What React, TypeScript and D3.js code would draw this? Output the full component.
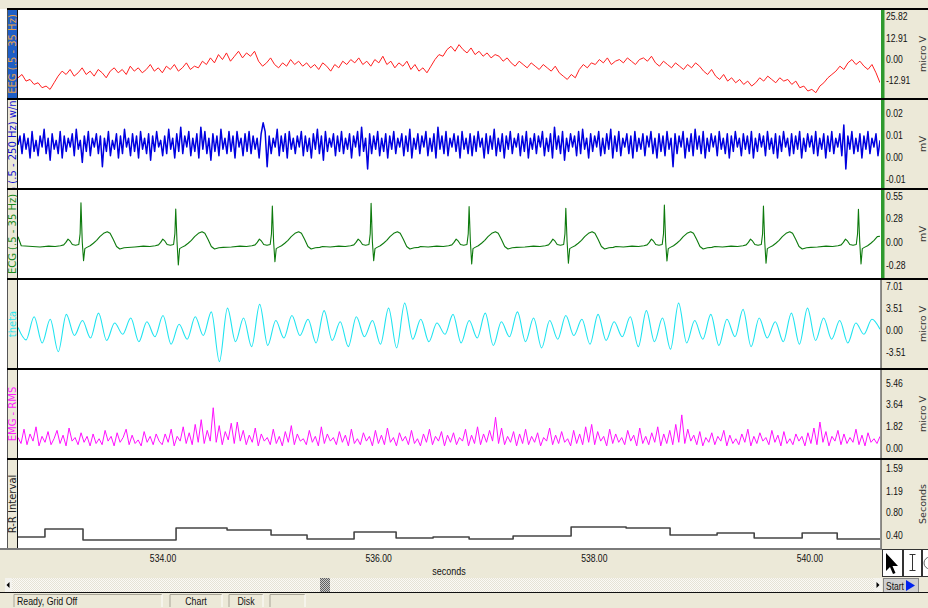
import React from 'react'
import * as d3 from 'd3'

// ---- values ----
const tStart = 532.655
const tEnd = 540.65
const timeTicks = [534, 536, 538, 540]

// EEG (.5 - 35 Hz), micro V, evenly sampled over the window
const eegMicroV = [
  -11, -9, -13, -12, -15, -14, -17, -16, -18, -14, -10, -7,
  -9, -6, -10, -8, -5, -9, -7, -10, -6, -8, -11, -7,
  -5, -8, -6, -9, -4, -7, -5, -8, -6, -3, -7, -5,
  -8, -4, -6, -3, -7, -5, -2, -6, -4, -5, -1, -3,
  1, -2, 3, 0, 4, -1, 2, 5, 1, 4, 2, 5,
  -1, -4, -2, 1, -3, -5, -2, -4, 0, -3, -1, -4,
  -2, -5, -3, -6, -2, -4, -7, -3, -5, -1, -3, 0,
  -2, 1, -3, -1, -4, 0, -2, 2, -3, -1, -5, -2,
  -4, -1, -6, -3, -7, -5, -8, -4, 0, 3, 2, 6,
  8, 5, 9, 6, 4, 7, 3, 5, 2, 4, 1, 3,
  2, -1, 1, -2, -4, -1, -3, -5, -2, -4, -6, -3,
  -5, -7, -4, -8, -10, -12, -9, -11, -6, -3, -5, -2,
  -3, 0, -2, 1, -3, -1, 0, -2, 1, -1, -3, 0,
  1, -1, 2, -2, -4, -1, -3, -5, -2, -4, -6, -3,
  -5, -2, -4, -7, -9, -6, -10, -12, -9, -13, -11, -14,
  -12, -15, -13, -16, -14, -11, -13, -10, -12, -14, -11, -13,
  -12, -15, -13, -17, -16, -19, -18, -20, -16, -14, -11, -9,
  -7, -4, -6, -2, 0, -3, -1, -4, -6, -3, -8, -14,
]

// EMG (.5 - 250 Hz) w/notch, micro V (axis shows mV)
const emgRawMicroV = [
  6, 10, 2, 11, 4, 9, 0, 12, 3, 8, 1, 10, 5, 13, 2, 9, -1, 11, 4, 8,
  2, 12, 0, 10, 3, 9, 5, 11, 1, 13, 4, 8, -2, 10, 3, 12, 1, 9, 5, 11,
  2, 10, -4, 9, 3, 12, 1, 8, 4, 11, 0, 10, 2, 13, 5, 9, 1, 11, 3, 10,
  0, 12, 4, 9, 2, 11, -1, 10, 3, 12, 5, 8, 1, 10, 2, 13, 4, 9, 0, 11,
  3, 14, 2, 10, 5, 12, 1, 9, 3, 11, 0, 14, 4, 12, 2, 9, -1, 11, 3, 10,
  1, 13, 4, 9, 2, 12, 3, 10, 0, 12, 5, 9, 1, 11, 3, 12, 2, 10, 4, 9,
  0, 11, 16, 12, -4, 10, 2, 9, 5, 13, 1, 10, 3, 11, 0, 12, 4, 9, 2, 10,
  5, 12, 1, 10, 3, 9, 0, 11, 4, 13, 2, 10, -1, 12, 3, 9, 5, 11, 1, 10,
  3, 12, 2, 9, 4, 11, 0, 10, 5, 12, 1, 14, 3, 9, -5, 11, 2, 10, 4, 12,
  1, 9, 3, 11, 0, 10, 4, 12, 2, 9, 5, 11, 1, 10, 3, 13, 0, 9, 4, 11,
  2, 10, 5, 12, 1, 9, 3, 11, 0, 14, 4, 10, 2, 12, 1, 9, 5, 11, 3, 10,
  0, 12, 4, 9, 2, 11, 1, 10, 3, 12, 5, 9, 0, 11, 2, 10, 4, 13, 1, 9,
  3, 11, 0, 10, 4, 12, 2, 9, 5, 11, 1, 10, 3, 12, 0, 9, 4, 11, 2, 10,
  5, 12, 1, 9, 3, 11, 0, 14, 4, 10, 2, 12, -1, 9, 3, 11, 5, 10, 1, 12,
  2, 13, 4, 9, 0, 11, 3, 10, 5, 12, 1, 9, 2, 11, 4, 13, 0, 10, 3, 12,
  1, 9, 5, 11, 2, 10, 0, 12, 3, 9, 4, 11, 1, 10, 5, 12, 2, 9, 0, 11,
  3, 10, 1, 12, 4, 9, -4, 11, 2, 10, 5, 12, 0, 9, 3, 11, 1, 13, 4, 10,
  2, 12, 0, 9, 3, 11, 5, 10, 1, 12, 4, 9, 2, 11, 0, 10, 3, 12, 5, 9,
  1, 11, 4, 10, 2, 12, 0, 9, 3, 11, 5, 10, 1, 12, 4, 9, 2, 11, 0, 10,
  3, 12, 5, 9, 1, 11, 2, 10, 4, 12, 0, 9, 3, 11, 5, 10, 2, 12, 1, 9,
  4, 11, 0, 10, 3, 12, 2, 9, 5, 11, 1, 15, -5, 10, 4, 12, 2, 9, 3, 11,
  0, 10, 4, 12, 2, 9, 5, 11, 1, 8,
]

// ECG (.5 - 35 Hz), mV: beat times, R / S amplitudes and one beat shape
const ecgBeatTimes = [533.239, 534.118, 535.014, 535.93, 536.839, 537.736, 538.65, 539.569, 540.45]
const ecgRPeaks = [0.476, 0.4, 0.436, 0.469, 0.428, 0.409, 0.448, 0.436, 0.396]
const ecgSTroughs = [-0.227, -0.279, -0.239, -0.227, -0.267, -0.258, -0.23, -0.258, -0.267]
const ecgWaveOffsets = [-0.45, -0.38, -0.3, -0.24, -0.19, -0.16, -0.14, -0.12, -0.1, -0.08, -0.05, -0.02, -0.008, 0, 0.012, 0.024, 0.036, 0.055, 0.085, 0.115, 0.145, 0.175, 0.21, 0.244, 0.27, 0.3, 0.33, 0.36, 0.4, 0.44]
const ecgWaveValues = [-0.055, -0.06, -0.05, -0.055, -0.045, -0.035, -0.005, 0.035, 0.01, -0.03, -0.04, -0.03, 0.1, null, 0, null, -0.08, -0.065, -0.045, -0.015, 0.02, 0.065, 0.105, 0.125, 0.105, 0.03, -0.055, -0.085, -0.07, -0.065]
const ecgLead = [0.065, -0.045]
const ecgTail = 0.07

// theta, micro V, successive peaks and troughs
const thetaMicroV = [
  0.5, -1.5, 2.2, -2.0, 1.8, -3.4, 2.6, -0.8, 1.6, -1.2,
  2.8, -1.6, 1.2, -0.6, 2.0, -1.8, 1.4, -1.0, 2.4, -2.2,
  1.0, -1.4, 2.2, -0.8, 3.0, -5.0, 3.6, -1.8, 2.0, -2.6,
  4.2, -2.4, 1.6, -1.2, 2.4, -0.8, 1.8, -2.0, 3.2, -1.6,
  1.4, -2.6, 2.2, -1.0, 1.6, -2.2, 3.6, -2.8, 4.4, -1.4,
  1.8, -1.8, 1.2, -0.6, 2.6, -2.0, 1.6, -1.2, 2.8, -2.4,
  1.4, -1.0, 3.0, -1.8, 2.0, -2.8, 1.6, -1.4, 2.4, -0.8,
  1.8, -2.2, 2.6, -1.6, 1.4, -1.0, 2.2, -2.6, 3.2, -1.8,
  2.0, -3.0, 4.4, -2.0, 1.6, -1.4, 2.6, -2.4, 1.8, -1.0,
  3.4, -2.6, 2.0, -1.2, 1.4, -1.8, 2.8, -2.2, 3.6, -1.6,
  2.0, -1.4, 1.6, -2.0, 1.2, -0.6, 1.8, 0.2,
]

// EMG - RMS, micro V
const emgRmsMicroV = [
  0.9, 0.4, 1.6, 0.3, 1.2, 0.6, 1.8, 0.2, 1.0, 0.5, 1.4, 0.3, 0.8, 1.5, 0.4, 1.1, 0.2, 1.7, 0.6, 0.9, 0.3, 1.3, 0.5, 1.0,
  0.2, 1.2, 0.4, 0.8, 0.3, 1.5, 0.6, 1.0, 0.2, 1.3, 0.5, 0.9, 1.6, 0.3, 1.1, 0.4, 0.7, 0.2, 1.4, 0.5, 1.0, 0.3, 1.2, 0.6,
  0.3, 1.2, 0.5, 1.6, 0.2, 1.0, 0.6, 1.8, 0.4, 1.3, 0.3, 2.0, 0.5, 2.4, 0.4, 1.5, 0.6, 3.4, 0.5, 1.9, 0.3, 1.4, 0.7, 2.1,
  0.4, 2.2, 0.6, 1.5, 0.3, 1.1, 0.5, 1.7, 0.2, 1.2, 0.6, 0.9, 0.3, 1.6, 0.4, 1.0, 0.2, 1.4, 0.5, 1.9, 0.3, 1.2, 0.6, 0.8,
  0.3, 1.5, 0.5, 1.0, 0.2, 1.8, 0.4, 1.2, 0.6, 0.9, 0.3, 1.4, 0.5, 1.1, 0.2, 1.6, 0.4, 0.8, 0.3, 1.3, 0.6, 1.0, 0.2, 1.5,
  0.4, 1.1, 0.3, 1.7, 0.5, 0.9, 0.2, 1.3, 0.6, 1.0, 0.3, 1.5, 0.4, 0.8, 0.2, 1.2, 0.5, 1.6, 0.3, 1.0, 0.6, 1.4, 0.2, 1.1,
  0.5, 1.3, 0.3, 0.9, 0.6, 1.6, 0.2, 1.1, 0.4, 1.8, 0.3, 1.2, 0.5, 1.5, 0.6, 2.6, 0.4, 1.7, 0.3, 1.0, 0.5, 1.4, 0.2, 1.2,
  0.4, 1.6, 0.3, 1.0, 0.5, 1.3, 0.2, 0.9, 0.6, 1.7, 0.3, 1.1, 0.4, 1.4, 0.5, 0.8, 0.2, 1.5, 0.4, 1.2, 0.3, 1.8, 0.5, 2.0,
  0.3, 1.4, 0.6, 1.0, 0.2, 1.6, 0.4, 1.2, 0.5, 0.9, 0.3, 1.5, 0.6, 1.1, 0.2, 1.7, 0.4, 1.0, 0.3, 1.3, 0.5, 1.8, 0.2, 1.2,
  0.4, 1.5, 0.3, 2.0, 0.5, 2.8, 0.4, 1.6, 0.6, 1.1, 0.3, 1.4, 0.2, 0.9, 0.5, 1.3, 0.3, 1.0, 0.6, 1.5, 0.2, 1.1, 0.4, 0.8,
  0.3, 1.2, 0.5, 1.6, 0.2, 1.0, 0.4, 1.3, 0.6, 0.9, 0.3, 1.5, 0.5, 1.1, 0.2, 1.4, 0.4, 0.8, 0.3, 1.2, 0.6, 1.0, 0.2, 1.3,
  0.4, 1.7, 0.3, 2.2, 0.5, 1.4, 0.2, 1.0, 0.6, 1.5, 0.3, 1.2, 0.4, 0.9, 0.5, 1.6, 0.3, 1.1, 0.2, 1.3, 0.5, 0.8, 0.4, 1.0,
]

// R-R Interval, seconds (step changes)
const rrChangeTimes = [532.655, 532.905, 533.258, 534.121, 534.594, 535.002, 535.336, 535.772, 536.162, 536.505, 536.839, 537.247, 537.785, 538.295, 538.703, 539.139, 539.483, 539.928, 540.253]
const rrSeconds = [0.364, 0.508, 0.31, 0.526, 0.49, 0.4, 0.328, 0.454, 0.346, 0.364, 0.328, 0.382, 0.544, 0.526, 0.4, 0.436, 0.346, 0.436, 0.328]

const channelLabels = ['EEG (.5 - 35 Hz)', 'EMG (.5 - 250 Hz) w/notch', 'ECG (.5 - 35 Hz)', 'theta', 'EMG - RMS', 'R-R Interval']
const channelUnits = ['micro V', 'mV', 'mV', 'micro V', 'micro V', 'Seconds']
const channelTicks = [
  [25.82, 12.91, 0, -12.91],
  [0.02, 0.01, 0, -0.01],
  [0.55, 0.28, 0, -0.28],
  [7.01, 3.51, 0, -3.51],
  [5.46, 3.64, 1.82, 0],
  [1.59, 1.19, 0.8, 0.4],
]
const channelDomains = [
  [-23.8, 30.5],
  [-0.0141, 0.0268],
  [-0.448, 0.642],
  [-6.19, 8.28],
  [-0.9, 6.65],
  [0.148, 1.77],
]

// ---- layout ----
const W = 928
const H = 608
const plotLeft = 18
const plotRight = 880
const panelTop = 9
const panelH = 90
const bg = '#ece9d8'
const traceColors = ['#ff2020', '#0000e0', '#0d7a0d', '#20e4f0', '#ff10ff', '#454545']
const labelColors = ['#e8a24a', '#1010d0', '#1a8a1a', '#30e6f0', '#ff20ff', '#202020']
const tickFont = 'Liberation Sans, Arial, sans-serif'
const labelFont = 'Verdana, DejaVu Sans, sans-serif'

const spread = (vals: number[]) =>
  vals.map((v, i) => [tStart + ((tEnd - tStart) * i) / (vals.length - 1), v] as [number, number])

function ecgSeries() {
  const pts: [number, number][] = [[tStart, ecgLead[0]], [tStart + 0.03, ecgLead[1]]]
  const rIdx = ecgWaveOffsets.indexOf(0)
  const sIdx = ecgWaveOffsets.indexOf(0.024)
  ecgBeatTimes.forEach((r, b) => {
    const lo = b === 0 ? tStart + 0.05 - r : (ecgBeatTimes[b - 1] - r) / 2
    const hi = b === ecgBeatTimes.length - 1 ? tEnd - r : (ecgBeatTimes[b + 1] - r) / 2
    ecgWaveOffsets.forEach((o, k) => {
      if (o < lo || o >= hi) return
      let v = ecgWaveValues[k] as number
      if (k === rIdx) v = ecgRPeaks[b]
      if (k === sIdx) v = ecgSTroughs[b]
      pts.push([r + o, v])
    })
  })
  pts.push([tEnd, ecgTail])
  return pts
}

function rrSeries() {
  const pts = rrChangeTimes.map((t, i) => [t, rrSeconds[i]] as [number, number])
  pts.push([tEnd, rrSeconds[rrSeconds.length - 1]])
  return pts
}

const series: [number, number][][] = [
  spread(eegMicroV),
  spread(emgRawMicroV.map(v => v / 1000)),
  ecgSeries(),
  spread(thetaMicroV),
  spread(emgRmsMicroV),
  rrSeries(),
]
const curves = [d3.curveLinear, d3.curveLinear, d3.curveLinear, d3.curveMonotoneX, d3.curveLinear, d3.curveStepAfter]
const strokeWidths = [1, 1.5, 1.1, 1.1, 1, 1.6]

const App = () => {
  const x = d3.scaleLinear().domain([tStart, tEnd]).range([plotLeft, plotRight])
  const bottom = panelTop + panelH * 6

  return (
    <svg width={W} height={H} style={{ position: 'absolute', left: 0, top: 0, display: 'block' }}>
      <defs>
        {channelLabels.map((_, i) => (
          <clipPath id={'plot' + i} key={'p' + i}>
            <rect x={plotLeft} y={panelTop + panelH * i + 1} width={plotRight - plotLeft} height={panelH - 2} />
          </clipPath>
        ))}
        {channelLabels.map((_, i) => (
          <clipPath id={'lab' + i} key={'l' + i}>
            <rect x={7} y={panelTop + panelH * i + 1} width={11} height={panelH - 2} />
          </clipPath>
        ))}
        <pattern id="dither" width="2" height="2" patternUnits="userSpaceOnUse">
          <rect width="2" height="2" fill="#fbfaf6" />
          <rect width="1" height="1" fill="#e6e3d6" />
          <rect x="1" y="1" width="1" height="1" fill="#e6e3d6" />
        </pattern>
        <pattern id="thumb" width="2" height="2" patternUnits="userSpaceOnUse">
          <rect width="2" height="2" fill="#c8c8c8" />
          <rect width="1" height="1" fill="#606060" />
          <rect x="1" y="1" width="1" height="1" fill="#606060" />
        </pattern>
      </defs>

      {/* window chrome */}
      <rect x={0} y={0} width={W} height={H} fill="#fff" />
      <rect x={0} y={0} width={W} height={panelTop} fill={bg} />
      <rect x={7} y={panelTop} width={11} height={bottom - panelTop} fill={bg} />
      <rect x={plotRight + 1} y={panelTop} width={W - plotRight} height={bottom - panelTop} fill={bg} />
      <rect x={0} y={bottom} width={W} height={H - bottom} fill={bg} />

      {channelLabels.map((label, i) => {
        const top = panelTop + panelH * i
        const y = d3.scaleLinear().domain(channelDomains[i]).range([top + panelH, top])
        const line = d3.line<[number, number]>().x(d => x(d[0])).y(d => y(d[1])).curve(curves[i])
        const cy = top + panelH / 2
        return (
          <g key={label}>
            {i === 0 && <rect x={7} y={top + 1} width={10.5} height={panelH - 1} fill="#1f5fc6" />}
            <g clipPath={`url(#lab${i})`}>
              <text
                transform={`translate(16,${cy}) rotate(-90)`}
                textAnchor="middle"
                fontFamily={labelFont}
                fontSize={10}
                fill={labelColors[i]}
              >
                {label}
              </text>
            </g>
            <g clipPath={`url(#plot${i})`}>
              <path
                d={line(series[i]) || ''}
                fill="none"
                stroke={traceColors[i]}
                strokeWidth={strokeWidths[i]}
                strokeLinejoin="round"
              />
            </g>
            {channelTicks[i].map(t => (
              <text
                key={t}
                transform={`translate(886,${y(t) + 3.5}) scale(0.82,1)`}
                fontFamily={tickFont}
                fontSize={10.5}
                fill="#111"
              >
                {t.toFixed(2)}
              </text>
            ))}
            <text
              transform={`translate(926,${cy}) rotate(-90)`}
              textAnchor="middle"
              fontFamily={labelFont}
              fontSize={9.5}
              fill="#333"
            >
              {channelUnits[i]}
            </text>
          </g>
        )
      })}

      {/* green selection bars and frame */}
      <rect x={881} y={panelTop} width={3.5} height={panelH * 3} fill="#2f9a2f" />
      <line x1={881} x2={881} y1={panelTop + panelH * 3} y2={bottom} stroke="#222" strokeWidth={1} />
      <line x1={7.5} x2={7.5} y1={panelTop} y2={bottom} stroke="#555" strokeWidth={1} />
      <line x1={17.5} x2={17.5} y1={panelTop} y2={bottom} stroke="#111" strokeWidth={1} />
      {channelLabels.map((_, i) => (
        <line key={'sep' + i} x1={7} x2={W} y1={panelTop + panelH * i} y2={panelTop + panelH * i} stroke="#000" strokeWidth={2} />
      ))}
      <line x1={0} x2={882} y1={bottom} y2={bottom} stroke="#7a7a7a" strokeWidth={2} />

      {/* time axis */}
      {timeTicks.map(t => (
        <text
          key={t}
          transform={`translate(${x(t)},562) scale(0.82,1)`}
          textAnchor="middle"
          fontFamily={tickFont}
          fontSize={10.5}
          fill="#111"
        >
          {t.toFixed(2)}
        </text>
      ))}
      <text
        transform={`translate(${(plotLeft + plotRight) / 2},575) scale(0.9,1)`}
        textAnchor="middle"
        fontFamily={tickFont}
        fontSize={10}
        fill="#111"
      >
        seconds
      </text>

      {/* tool buttons */}
      <rect x={882.5} y={549.5} width={20} height={27} fill="#fff" stroke="#333" />
      <path d="M886,553 L886,571 L890,567 L893,574 L895.5,573 L892.5,566 L898,566 Z" fill="#000" />
      <rect x={903.5} y={549.5} width={18} height={27} fill="#fff" stroke="#333" />
      <path d="M909.5,554.5 h6 M912.5,554.5 v16 M909.5,570.5 h6" stroke="#333" fill="none" />
      <rect x={922.5} y={549.5} width={8} height={27} fill="#fff" stroke="#333" />
      <circle cx={930} cy={563} r={6} fill="none" stroke="#666" />

      {/* scroll bar */}
      <rect x={5} y={578} width={876} height={14} fill="url(#dither)" />
      <rect x={5} y={578} width={7} height={14} fill="#f4f3ee" />
      <path d="M9.5,582 L6.5,585 L9.5,588 Z" fill="#000" />
      <rect x={320} y={578} width={10} height={14} fill="url(#thumb)" />
      <rect x={874} y={578} width={8} height={14} fill="#f4f3ee" />
      <path d="M876.5,582 L879.5,585 L876.5,588 Z" fill="#000" />
      <rect x={883.5} y={578.5} width={35} height={14} fill="#cfcfcf" stroke="#888" />
      <text transform="translate(886,589.5) scale(0.85,1)" fontFamily={tickFont} fontSize={10} fill="#111">
        Start
      </text>
      <path d="M906,580 L915,585.5 L906,591 Z" fill="#0022ee" />
      <line x1={0} x2={W} y1={592.5} y2={592.5} stroke="#111" strokeWidth={1} />

      {/* status bar */}
      {[
        [14, 162, 'Ready, Grid Off', 'start'],
        [170, 222, 'Chart', 'middle'],
        [229, 263, 'Disk', 'middle'],
        [270, 305, '', 'middle'],
      ].map(([a, b, txt, anchor]) => (
        <g key={String(a)}>
          <path d={`M${a},607 V594.5 H${b}`} stroke="#a8a597" fill="none" />
          <path d={`M${b},594.5 V607`} stroke="#fff" fill="none" />
          <text
            transform={`translate(${anchor === 'start' ? (a as number) + 3 : ((a as number) + (b as number)) / 2},605) scale(0.88,1)`}
            textAnchor={anchor as string}
            fontFamily={tickFont}
            fontSize={10}
            fill="#111"
          >
            {txt}
          </text>
        </g>
      ))}
    </svg>
  )
}

export default App
